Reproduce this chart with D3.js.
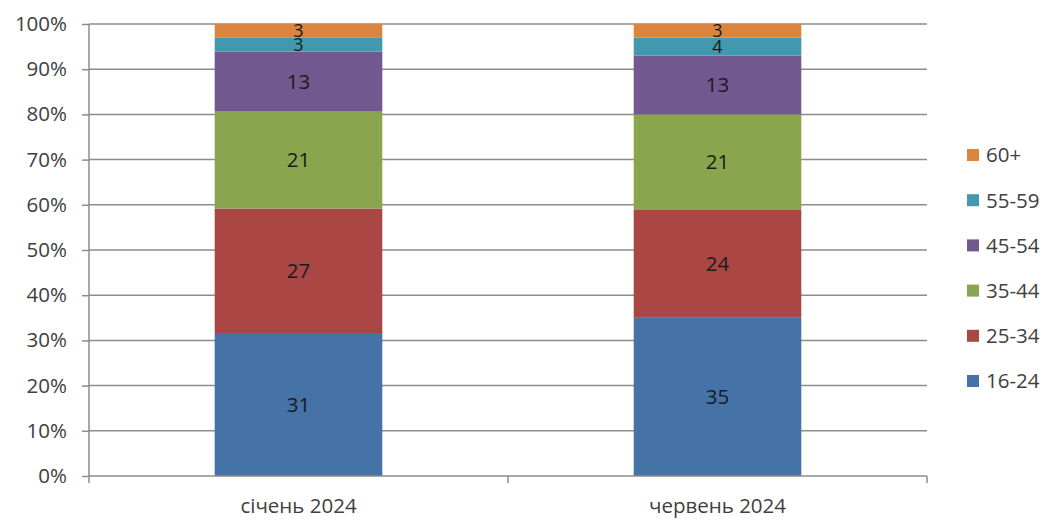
<!DOCTYPE html>
<html>
<head>
<meta charset="utf-8">
<script src="https://cdn.jsdelivr.net/npm/d3@7"></script>
<style>
  html, body { margin: 0; padding: 0; background: #fff; }
  svg { display: block; font-family: "Open Sans", "Noto Sans", sans-serif; }
</style>
</head>
<body>
<svg id="chart" width="1051" height="521"></svg>
<script>
// Age groups (bottom to top of each stack)
const groups = ["16-24", "25-34", "35-44", "45-54", "55-59", "60+"];
const colors = ["#4572A7", "#AA4643", "#89A54E", "#71588F", "#4198AF", "#DB843D"];
const periods = ["січень 2024", "червень 2024"];
const janValues = [31, 27, 21, 13, 3, 3];
const junValues = [35, 24, 21, 13, 4, 3];
const yTicks = [0, 0.1, 0.2, 0.3, 0.4, 0.5, 0.6, 0.7, 0.8, 0.9, 1.0];

const seriesValues = [janValues, junValues];
const rows = periods.map((p, i) => {
  const r = { period: p };
  groups.forEach((g, j) => { r[g] = seriesValues[i][j]; });
  return r;
});

const stack = d3.stack().keys(groups).offset(d3.stackOffsetExpand);
const layers = stack(rows);

const svg = d3.select("#chart");
const plotLeft = 89, plotRight = 927, plotTop = 24, plotBottom = 476;
const fontSize = 20.5;

const x = d3.scaleBand().domain(periods).range([plotLeft, plotRight]).paddingInner(0.6).paddingOuter(0.3);
const y = d3.scaleLinear().domain([0, 1]).range([plotBottom, plotTop]);
const color = d3.scaleOrdinal().domain(groups).range(colors);

// Horizontal gridlines
svg.append("g")
  .selectAll("line")
  .data(yTicks.slice(1))
  .join("line")
  .attr("x1", plotLeft).attr("x2", plotRight)
  .attr("y1", d => y(d)).attr("y2", d => y(d))
  .attr("stroke", "#8c8c8c").attr("stroke-width", 1.5);

// Stacked bars
const layerG = svg.append("g")
  .selectAll("g")
  .data(layers)
  .join("g")
  .attr("fill", d => color(d.key));

layerG.selectAll("rect")
  .data(d => d)
  .join("rect")
  .attr("x", d => x(d.data.period))
  .attr("width", x.bandwidth())
  .attr("y", d => y(d[1]))
  .attr("height", d => y(d[0]) - y(d[1]));

// Value labels, centred in each segment
svg.append("g")
  .selectAll("g")
  .data(layers)
  .join("g")
  .selectAll("text")
  .data(d => d.map(s => ({ s, key: d.key })))
  .join("text")
  .attr("x", d => x(d.s.data.period) + x.bandwidth() / 2)
  .attr("y", d => (y(d.s[0]) + y(d.s[1])) / 2)
  .attr("dy", "0.36em")
  .attr("text-anchor", "middle")
  .attr("font-size", d => (d.s.data[d.key] < 5 ? 18 : fontSize))
  .attr("fill", "#1a1a1a")
  .text(d => d.s.data[d.key]);

// Y axis
const yAxis = d3.axisLeft(y)
  .tickValues(yTicks)
  .tickFormat(d3.format(".0%"))
  .tickSize(7)
  .tickPadding(15);
const yg = svg.append("g").attr("transform", `translate(${plotLeft},0)`).call(yAxis);
yg.select(".domain").attr("stroke", "#8c8c8c").attr("stroke-width", 1.5).attr("d", `M0,${plotTop}V${plotBottom}`);
yg.selectAll(".tick line").attr("stroke", "#8c8c8c").attr("stroke-width", 1.5);
yg.selectAll(".tick text").attr("font-size", fontSize).attr("fill", "#404040").attr("font-family", "Open Sans, sans-serif");

// X axis
const xAxis = d3.axisBottom(x).tickSize(0).tickPadding(22);
const xg = svg.append("g").attr("transform", `translate(0,${plotBottom})`).call(xAxis);
xg.select(".domain").attr("stroke", "#8c8c8c").attr("stroke-width", 1.5).attr("d", `M${plotLeft},0H${plotRight}`);
xg.selectAll(".tick text").attr("font-size", fontSize).attr("fill", "#404040").attr("font-family", "Open Sans, sans-serif");
// Category separator ticks
const seps = [plotLeft, (plotLeft + plotRight) / 2, plotRight];
xg.selectAll(".sep")
  .data(seps)
  .join("line")
  .attr("class", "sep")
  .attr("x1", d => d).attr("x2", d => d)
  .attr("y1", 0).attr("y2", 7)
  .attr("stroke", "#8c8c8c").attr("stroke-width", 1.5);

// Legend (top to bottom: oldest group first)
const legendGroups = groups.slice().reverse();
const legend = svg.append("g").attr("transform", "translate(967,155)");
const item = legend.selectAll("g")
  .data(legendGroups)
  .join("g")
  .attr("transform", (d, i) => `translate(0,${i * 45.2})`);
item.append("rect")
  .attr("x", 0).attr("y", -6)
  .attr("width", 12).attr("height", 12)
  .attr("fill", d => color(d));
item.append("text")
  .attr("x", 19).attr("y", 0).attr("dy", "0.36em")
  .attr("font-size", fontSize)
  .attr("fill", "#404040")
  .text(d => d);
</script>
</body>
</html>
